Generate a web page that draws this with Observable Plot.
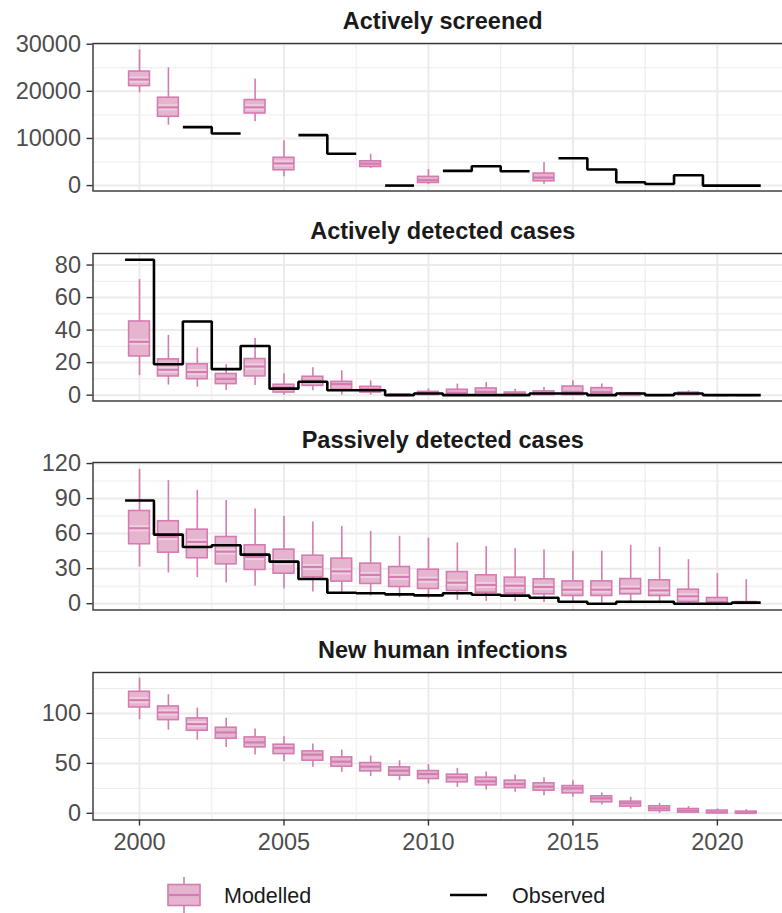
<!DOCTYPE html>
<html><head><meta charset="utf-8">
<script src="https://cdn.jsdelivr.net/npm/d3@7"></script>
<script src="https://cdn.jsdelivr.net/npm/@observablehq/plot@0.6"></script>
<style>
html,body{margin:0;padding:0;background:#fff;overflow:hidden;}
#chart{position:relative;width:782px;height:913px;overflow:hidden;font-family:"Liberation Sans",Arial,Helvetica,sans-serif;}
#chart svg{position:absolute;left:0;overflow:visible;background:none;max-width:none !important;}
</style></head><body><div id="chart"></div>
<script>
// ---- data ----
const xTicks = [2000, 2005, 2010, 2015, 2020];
const xMinor = [2002.5, 2007.5, 2012.5, 2017.5, 2022.5];

// Modelled boxes: [year, min, q1, median, q3, max]
const screenedModel = [
  [2000, 19700, 21100, 22500, 24200, 28800],
  [2001, 12800, 14600, 16600, 18650, 25000],
  [2004, 13550, 15300, 16600, 18150, 22600],
  [2005, 1850, 3250, 4700, 5900, 9500],
  [2008, 3600, 3950, 4650, 5150, 6650],
  [2010, 200, 550, 1150, 1850, 3400],
  [2014, 300, 900, 1700, 2550, 4900]
];
const screenedObs = [[2002,12400],[2003,11060],[2006,10700],[2007,6740],[2009,0],[2011,3120],[2012,4110],[2013,3050],[2015,5800],[2016,3400],[2017,700],[2018,350],[2019,2200],[2020,0],[2021,0]];

const activeModel = [
  [2000,12,23.8,32.8,45.3,71],[2001,6.2,11.5,15.6,22,36.7],[2002,4.9,9.8,14.2,19,29],
  [2003,2.9,6.8,10,13,18.7],[2004,6,11.5,17.6,22.2,34.9],[2005,0,1.6,4.7,6.4,13],
  [2006,2.7,5.7,8.8,11.3,16.8],[2007,0,3.3,6.8,8.2,15],[2008,0,1.6,3.7,5.1,8.8],
  [2009,0,0,0,0.5,1],[2010,0,0,1.2,2,3.7],[2011,0,0,1.4,3.3,6.8],[2012,0,0,2,4.1,7.8],
  [2013,0,0,0.8,1.6,3.7],[2014,0,0,1.4,2.3,4.7],[2015,0,0,2,5.3,8.8],[2016,0,0,1.8,4.3,6.8],
  [2017,0,0,0,1.2,1.4],[2018,0,0,0,0,0],[2019,0,0,0.8,1.6,2.7],[2020,0,0,0,0,0],[2021,0,0,0,0,0]
];
const activeObs = [[2000,83.3],[2001,19],[2002,45.3],[2003,16],[2004,30.2],[2005,4],[2006,8.2],[2007,3],[2008,3],[2009,0],[2010,1],[2011,0],[2012,0],[2013,0],[2014,1],[2015,1],[2016,0],[2017,1],[2018,0],[2019,1],[2020,0],[2021,0]];

const passiveModel = [
  [2000,31.4,50.9,64.6,79.4,115],[2001,26.3,43.7,57.1,70.6,105.4],[2002,22.3,38.9,52.9,63.4,97.1],
  [2003,17.7,33.7,44.6,57.1,88.3],[2004,14.9,28.9,40,50,81],[2005,12.9,25.7,35.7,46.3,74.6],
  [2006,10,22.6,31.4,41.1,70],[2007,8.6,18.9,27.7,38.6,66],[2008,6.6,16.9,24.6,34.3,62],
  [2009,5.1,14.3,22.9,31.4,57.7],[2010,4.3,12.6,20.6,29.1,56],[2011,2.9,10.9,18,27.1,52],
  [2012,2,9.4,16,24.3,48.9],[2013,1.7,8.6,15.4,22.3,47.1],[2014,1.1,8,14.3,20.9,46],
  [2015,0.6,6.6,12,19.1,44.9],[2016,0.6,6.6,12,19.1,44.9],[2017,1.4,8,12.9,21.1,50],
  [2018,0.6,6.6,11.4,20,48.3],[2019,0,1.4,6.3,12,37.7],[2020,0,0,1.4,4.9,25.7],[2021,0,0,0.6,1.4,20.6]
];
const passiveObs = [[2000,88.3],[2001,59.1],[2002,48.6],[2003,50],[2004,42],[2005,36],[2006,21.1],[2007,9.4],[2008,8.9],[2009,8],[2010,7.1],[2011,8.9],[2012,7.7],[2013,6.9],[2014,5.1],[2015,1.7],[2016,0],[2017,1.7],[2018,1.7],[2019,0],[2020,0],[2021,0.9]];

const infectionsModel = [
  [2000,93.7,106,113.3,121.7,135.3],[2001,83.3,93.3,101,107,118.7],[2002,73.3,82.7,89.3,95,105.3],
  [2003,66,74.7,81,85.7,95.3],[2004,58.3,66,71,76,84.3],[2005,52,59.3,65.3,68.7,76.7],
  [2006,46,52.7,58.7,62,69.3],[2007,41,46.7,51.7,56,63.3],[2008,36.7,42,46.7,50.3,57.3],
  [2009,32.7,37.7,42.7,46,52.7],[2010,29.3,34.3,39.3,42.3,48.7],[2011,26,31,36,38.7,45],
  [2012,23.3,28,32,35.7,41.3],[2013,21,25.3,29.3,32.7,38.3],[2014,17.7,22.7,26.7,30,35.7],
  [2015,16,20,25,27.3,32.7],[2016,8.3,11,15,17,20.3],[2017,4.3,6.7,10,11.7,16],
  [2018,0,2.3,5,7,10],[2019,0,0.7,2.7,4.3,6.7],[2020,0,0,1,2.7,4.3],[2021,0,0,0.3,1.7,3.7]
];

const panels = [
  {title: "Actively screened", model: screenedModel, obs: screenedObs, domain: [-1150, 30150], ticks: [0,10000,20000,30000], minor: [5000,15000,25000]},
  {title: "Actively detected cases", model: activeModel, obs: activeObs, domain: [-3.6, 87.1], ticks: [0,20,40,60,80], minor: [10,30,50,70]},
  {title: "Passively detected cases", model: passiveModel, obs: passiveObs, domain: [-5.4, 120.9], ticks: [0,30,60,90,120], minor: [15,45,75,105]},
  {title: "New human infections", model: infectionsModel, obs: [], domain: [-6.7, 141], ticks: [0,50,100], minor: [25,75,125]}
];
const legendItems = ["Modelled", "Observed"];

// ---- styling constants ----
const pinkDark = "#d47cb0", pinkFill = "#e5b5d0", pinkBand = "#efd0e1";
const panelTops = [43.3, 252.8, 462.3, 671.8];
const panelH = 147.5, mt = 44, boxHalf = 0.36;
const font = "Liberation Sans, Arial, Helvetica, sans-serif";

function stepData(obs) {
  const out = []; let seg = 0, prev = null;
  for (const [yr, v] of obs) {
    if (prev !== null && yr !== prev + 1) seg++;
    out.push({x: yr - 0.5, v, seg}, {x: yr + 0.5, v, seg});
    prev = yr;
  }
  return out;
}

const chart = document.getElementById("chart");
panels.forEach((p, i) => {
  const last = i === panels.length - 1;
  const mb = last ? 44 : 2;
  const span = p.domain[1] - p.domain[0];
  const marks = [
    Plot.gridY(p.minor, {stroke: "#ebebeb", strokeOpacity: 1, strokeWidth: 1}),
    Plot.gridX(xMinor, {stroke: "#ebebeb", strokeOpacity: 1, strokeWidth: 1}),
    Plot.gridY(p.ticks, {stroke: "#ebebeb", strokeOpacity: 1, strokeWidth: 2}),
    Plot.gridX(xTicks, {stroke: "#ebebeb", strokeOpacity: 1, strokeWidth: 2}),
    Plot.ruleX(p.model, {x: d => d[0], y1: d => d[1], y2: d => d[5], stroke: pinkDark, strokeWidth: 1.6}),
    Plot.rect(p.model, {x1: d => d[0] - boxHalf, x2: d => d[0] + boxHalf, y1: d => d[2], y2: d => d[4], fill: pinkFill, stroke: pinkDark, strokeWidth: 1.6}),
    Plot.ruleY(p.model.filter(d => (d[4] - d[2]) / span * panelH > 11), {y: d => d[3], x1: d => d[0] - boxHalf + 0.03, x2: d => d[0] + boxHalf - 0.03, stroke: pinkBand, strokeWidth: 6}),
    Plot.ruleY(p.model, {y: d => d[3], x1: d => d[0] - boxHalf, x2: d => d[0] + boxHalf, stroke: pinkDark, strokeWidth: 2.2}),
    Plot.line(stepData(p.obs), {x: "x", y: "v", z: "seg", stroke: "#000", strokeWidth: 2.6, strokeLinejoin: "miter", strokeLinecap: "butt"}),
    Plot.frame({stroke: "#333", strokeWidth: 1.4}),
    Plot.axisY(p.ticks, {label: null, tickSize: 6, tickPadding: 6, fontSize: 23.5, stroke: "#333", strokeWidth: 1.4, fill: "#4d4d4d", tickFormat: d => String(d)}),
    Plot.text([p.title], {text: d => d, frameAnchor: "top", dy: -22, lineAnchor: "middle", fontSize: 23.5, fontWeight: "bold", fill: "#1a1a1a"})
  ];
  if (last) marks.push(Plot.axisX(xTicks, {label: null, anchor: "bottom", tickSize: 6, tickPadding: 7, fontSize: 23.5, stroke: "#333", strokeWidth: 1.4, fill: "#4d4d4d", tickFormat: d => String(d)}));
  const svg = Plot.plot({
    width: 792, height: mt + panelH + mb,
    marginLeft: 92.5, marginRight: 0, marginTop: mt, marginBottom: mb,
    style: {fontFamily: font, background: "none", overflow: "visible", maxWidth: "none"},
    x: {domain: [1998.39, 2022.6], axis: null},
    y: {domain: p.domain, axis: null},
    marks
  });
  svg.style.top = (panelTops[i] - mt) + "px";
  svg.style.maxWidth = "none";
  chart.appendChild(svg);
});

// ---- legend ----
const lg = d3.select(chart).append("svg").attr("width", 782).attr("height", 50)
  .style("top", "870px").style("font-family", font);
const cy = 25;
const g1 = lg.append("g");
g1.append("line").attr("x1", 184).attr("x2", 184).attr("y1", cy - 18).attr("y2", cy + 18).attr("stroke", pinkDark).attr("stroke-width", 1.6);
g1.append("rect").attr("x", 168).attr("y", cy - 10.5).attr("width", 32).attr("height", 21).attr("fill", pinkFill).attr("stroke", pinkDark).attr("stroke-width", 1.6);
g1.append("line").attr("x1", 169).attr("x2", 199).attr("y1", cy).attr("y2", cy).attr("stroke", pinkDark).attr("stroke-width", 2.2);
g1.append("text").attr("x", 224).attr("y", cy).attr("dy", "0.35em").attr("font-size", 21.5).attr("fill", "#1a1a1a").text(legendItems[0]);
const g2 = lg.append("g");
g2.append("line").attr("x1", 450).attr("x2", 487).attr("y1", cy).attr("y2", cy).attr("stroke", "#000").attr("stroke-width", 2.6);
g2.append("text").attr("x", 512).attr("y", cy).attr("dy", "0.35em").attr("font-size", 21.5).attr("fill", "#1a1a1a").text(legendItems[1]);
</script></body></html>
